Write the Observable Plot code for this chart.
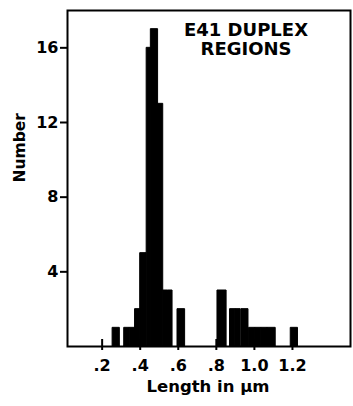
<!DOCTYPE html>
<html><head><meta charset="utf-8">
<script src="https://cdn.jsdelivr.net/npm/d3@7"></script>
<script src="https://cdn.jsdelivr.net/npm/@observablehq/plot@0.6"></script>
<style>
body{margin:0;background:#fff}
svg{font-family:"DejaVu Sans",Arial,Helvetica,sans-serif}
</style>
</head><body><div id="chart"></div>
<script>
// Histogram bins (length in µm) and counts
const binStart = [0.255,0.316,0.345,0.373,0.400,0.434,0.456,0.494,0.521,0.546,0.596,0.806,0.872,0.900,0.932,0.972,1.004,1.036,1.069,1.191];
const binEnd   = [0.293,0.345,0.373,0.400,0.434,0.456,0.494,0.521,0.546,0.570,0.636,0.854,0.900,0.928,0.969,1.004,1.036,1.069,1.112,1.229];
const counts   = [1,1,1,2,5,16,17,13,3,3,2,3,2,2,2,1,1,1,1,1];
const xTicks = [0.2,0.4,0.6,0.8,1.0,1.2];
const xTickLabels = [".2",".4",".6",".8","1.0","1.2"];
const yTicks = [4,8,12,16];
const titleLines = ["E41 DUPLEX","REGIONS"];
const xLabel = "Length in μm";
const yLabel = "Number";

const bins = counts.map((c,i)=>({x1:binStart[i], x2:binEnd[i], count:c}));

const W = 353, H = 406, mL = 67, mR = 3, mT = 10, mB = 60;
const innerH = H - mT - mB;

const chart = Plot.plot({
  width: W, height: H,
  marginLeft: mL, marginRight: mR, marginTop: mT, marginBottom: mB,
  x: {domain:[0.018, 1.505]},
  y: {domain:[0, 18]},
  style: {background:"#fff", color:"#000"},
  marks: [
    Plot.tickX(xTicks, {x: d=>d, insetTop: innerH - 7, insetBottom: -4, stroke:"#000", strokeWidth: 2}),
    Plot.rectY(bins, {x1:"x1", x2:"x2", y:"count", fill:"#000", stroke:"#000", strokeWidth: 1, strokeLinejoin:"round"}),
    Plot.frame({stroke:"#000", strokeWidth: 2}),
    Plot.axisY(yTicks, {tickSize: 7, tickPadding: 2, strokeWidth: 2, fontSize: 16, fontWeight: "bold", label: null, tickFormat: d=>String(d)}),
    Plot.axisX(xTicks, {tickSize: 0, tickPadding: 13, fontSize: 16, fontWeight: "bold", label: null, tickFormat: d=>xTickLabels[xTicks.indexOf(d)]}),
    Plot.text([titleLines.join("\n")], {frameAnchor:"top", dx: 37, dy: 11, lineAnchor:"top", fontSize: 18, fontWeight:"bold", lineHeight: 1.1, fill:"#000"}),
    Plot.text([xLabel], {frameAnchor:"bottom", dx: -1, dy: 34, lineAnchor:"top", fontSize: 16.5, fontWeight:"bold", fill:"#000"}),
    Plot.text([yLabel], {frameAnchor:"left", rotate:-90, dx: -47, dy: 4, fontSize: 15.5, fontWeight:"bold", fill:"#000"})
  ]
});
document.getElementById("chart").appendChild(chart);
</script>
</body></html>
